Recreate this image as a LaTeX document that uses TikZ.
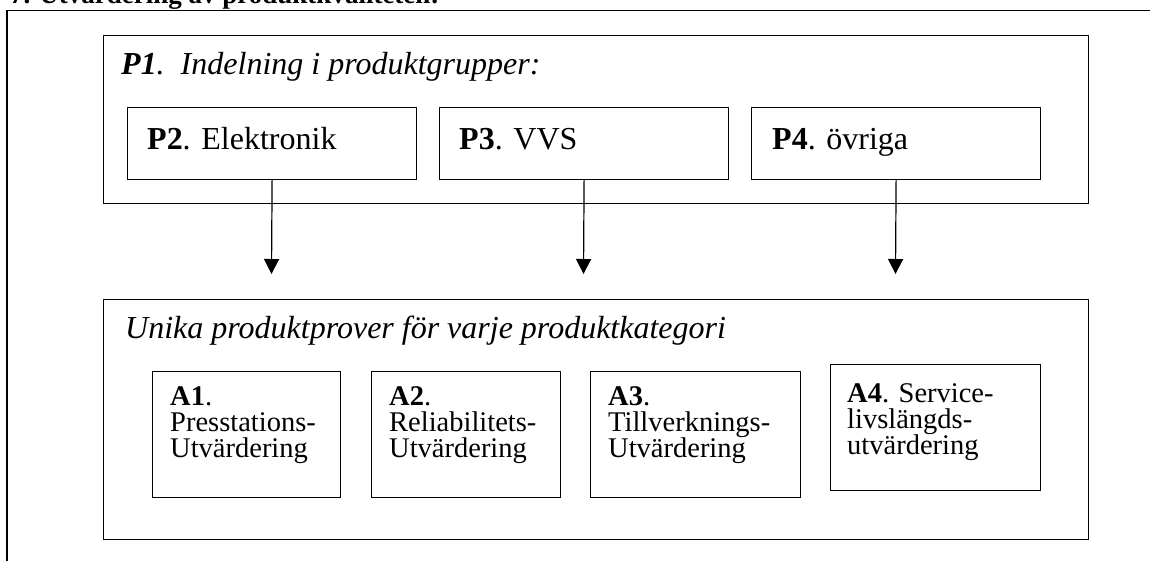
\documentclass[tikz,border=0pt]{standalone}
\usepackage{fontspec}
\setmainfont{Liberation Serif}
\usetikzlibrary{arrows.meta}
\tikzset{
  frame/.style={draw=black, line width=1.3pt},
  bigbox/.style={draw=black, line width=1.3pt, anchor=north west, inner sep=0pt, minimum width=985pt},
  pbox/.style={draw=black, line width=1.2pt, anchor=north west, inner sep=0pt, minimum width=289pt, minimum height=72pt},
  abox/.style={draw=black, line width=1.2pt, anchor=north west, inner sep=0pt, minimum height=126pt},
  bigtxt/.style={anchor=base west, inner sep=0pt, font=\fontsize{32}{38}\selectfont},
  atxt/.style={anchor=base west, inner sep=0pt, align=left, font=\fontsize{28.5}{26}\selectfont},
  arr/.style={line width=1.2pt, -{Triangle[width=15pt,length=15pt]}},
}
\begin{document}
\begin{tikzpicture}[x=1pt,y=-1pt]
\clip (0,0) rectangle (1150,560);
\fill[white] (0,0) rectangle (1150,560);
% heading (cut off at top)
\node[anchor=base west, inner sep=0pt, font=\fontsize{27}{30}\selectfont\bfseries] (title) at (10,3.5) {7. Utvärdering av produktkvaliteten:};
% outer frame
\coordinate (fa) at (7,600);
\coordinate (fb) at (7,10.5);
\coordinate (fc) at (1200,10.5);
\draw[frame] (fa) -- (fb) -- (fc);
% top group box
\node[bigbox, minimum height=168pt] (p1) at (103,35) {};
\node[bigtxt] (p1t) at (121,74) {\textit{\textbf{P1}.\ \ Indelning i produktgrupper:}};
\node[pbox] (p2) at (127,107) {};
\node[pbox] (p3) at (439,107) {};
\node[pbox] (p4) at (751,107) {};
\node[bigtxt] (p2t) at (147,149) {\textbf{P2}. Elektronik};
\node[bigtxt] (p3t) at (459,149) {\textbf{P3}. VVS};
\node[bigtxt] (p4t) at (772,149) {\textbf{P4}. övriga};
% bottom group box
\node[bigbox, minimum height=240pt] (u) at (103,299) {};
\node[bigtxt] (ut) at (125,338) {\textit{Unika produktprover för varje produktkategori}};
\node[abox, minimum width=188pt] (a1) at (152,371) {};
\node[abox, minimum width=189pt] (a2) at (371,371) {};
\node[abox, minimum width=210pt] (a3) at (590,371) {};
\node[abox, minimum width=210pt] (a4) at (830,364) {};
\node[atxt] (a1t) at (170,457) {\textbf{A1}.\\Presstations-\\Utvärdering};
\node[atxt] (a2t) at (389,457) {\textbf{A2}.\\Reliabilitets-\\Utvärdering};
\node[atxt] (a3t) at (608,457) {\textbf{A3}.\\Tillverknings-\\Utvärdering};
\node[atxt] (a4t) at (847,454) {\textbf{A4}. Service-\\livslängds-\\utvärdering};
% arrows
\coordinate (t2) at (271.5,274);
\coordinate (t3) at (583.5,274);
\coordinate (t4) at (895.5,274);
\draw[arr] (p2.south) -- (t2);
\draw[arr] (p3.south) -- (t3);
\draw[arr] (p4.south) -- (t4);
\end{tikzpicture}
\end{document}
